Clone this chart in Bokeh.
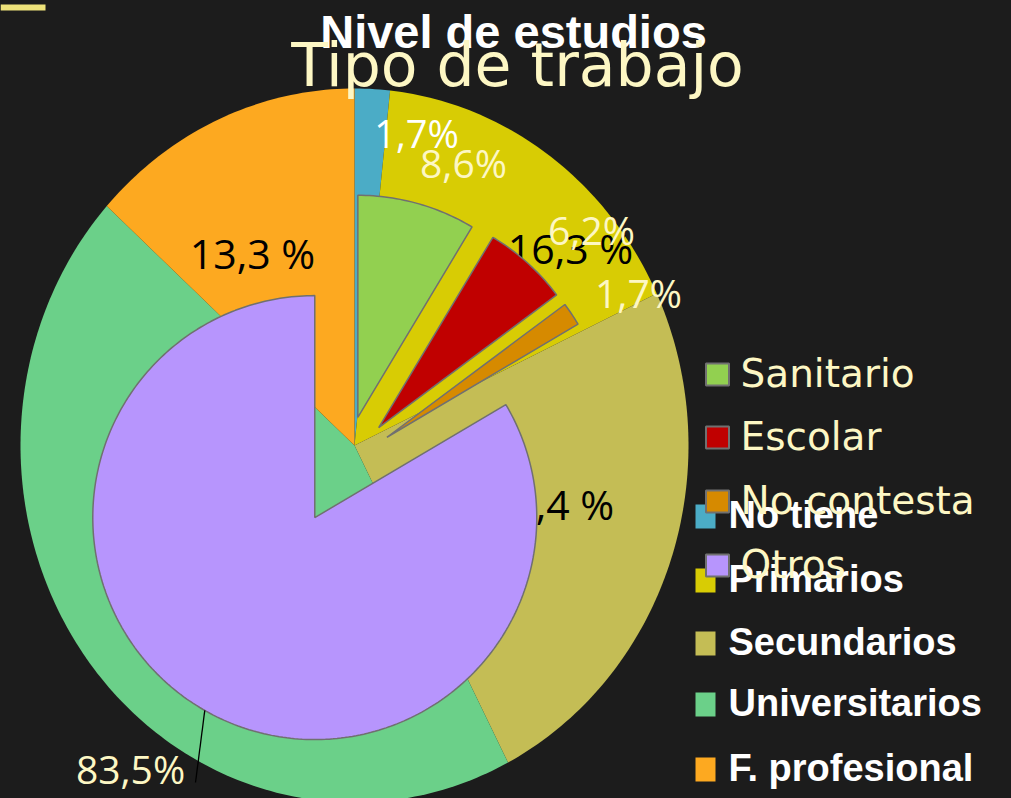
import numpy as np
from bokeh.plotting import figure
from bokeh.models import Range1d, ColumnDataSource
from bokeh.embed import file_html
from bokeh.resources import INLINE
from bokeh.core.properties import value

# ---------------- data ----------------
nivel_title = "Nivel de estudios"
nivel_cats = ["No tiene", "Primarios", "Secundarios", "Universitarios", "F. profesional"]
nivel_vals = [1.7, 16.3, 24.4, 44.3, 13.3]
nivel_labels = ["1,7%", "16,3 %", "24,4 %", "44,3 %", "13,3 %"]

tipo_title = "Tipo de trabajo"
tipo_cats = ["Sanitario", "Escolar", "No contesta", "Otros"]
tipo_vals = [8.6, 6.2, 1.7, 83.5]
tipo_labels = ["8,6%", "6,2%", "1,7%", "83,5%"]

# ---------------- styles / layout ----------------
BG = "#1c1c1c"
CREAM = "#fdf7c4"
nivel_colors = ["#4BACC6", "#D8CC04", "#C4BD55", "#6BD089", "#FDA920"]
tipo_colors = ["#92D050", "#C00000", "#D68A00", "#B795FD"]

big_center = (354, 445)
big_rx, big_ry = 334, 357
small_center = (344, 465)
small_r = 222
small_explode = [50, 51, 51, 60]

# baselines as seen in the picture
nivel_label_pos = [(416, 147), (570, 263), (551, 519), (200, 580), (252, 268)]
nivel_label_col = ["#ffffff", "#000000", "#000000", "#000000", "#000000"]
tipo_label_pos = [(463, 176), (591, 243), (638, 306), (130, 782)]
SHIFT = 0.37  # baseline correction, fraction of font size


def by_(y, size):
    return y - SHIFT * size


W, H = 1011, 798
p = figure(width=W, height=H, output_backend="svg", toolbar_location=None,
           x_range=Range1d(0, W), y_range=Range1d(H, 0),
           min_border=0, outline_line_color=None,
           background_fill_color=BG, border_fill_color=BG)
p.xaxis.visible = False
p.yaxis.visible = False
p.xgrid.visible = False
p.ygrid.visible = False


def wedge_shapes(vals, cx, cy, rx, ry, explode=None):
    total = float(sum(vals))
    ends = np.cumsum(vals) / total * 2 * np.pi
    starts = np.concatenate([[0.0], ends[:-1]])
    xs, ys, mids = [], [], []
    for i, (a0, a1) in enumerate(zip(starts, ends)):
        mid = (a0 + a1) / 2
        mids.append(mid)
        d = explode[i] if explode else 0.0
        ox = cx + d * np.sin(mid)
        oy = cy - d * np.cos(mid)
        n = max(4, int(360 * (a1 - a0) / (2 * np.pi)) + 2)
        t = np.linspace(a0, a1, n)
        xs.append([ox] + list(ox + rx * np.sin(t)))
        ys.append([oy] + list(oy - ry * np.cos(t)))
    return xs, ys, mids


# decorative bar at top-left corner
p.quad(left=[0], right=[45], top=[4], bottom=[10], fill_color="#ede27a", line_color=None)

# ---------- Nivel de estudios (back chart) ----------
bx, by, _ = wedge_shapes(nivel_vals, big_center[0], big_center[1], big_rx, big_ry)
p.patches(xs="xs", ys="ys", fill_color="color", line_color=None,
          source=ColumnDataSource(dict(xs=bx, ys=by, color=nivel_colors)))

nsz = [38, 41, 41, 41, 41]
p.text(x=[q[0] for q in nivel_label_pos],
       y=[by_(q[1], s) for q, s in zip(nivel_label_pos, nsz)],
       text=nivel_labels, text_color=nivel_label_col, text_font=value("Open Sans"),
       text_font_size=["%dpx" % s for s in nsz], text_align="center",
       text_baseline="alphabetic")

p.text(x=[513], y=[by_(48, 47)], text=[nivel_title], text_color="#ffffff",
       text_font=value("Liberation Sans"), text_font_style="bold", text_font_size="47px",
       text_align="center", text_baseline="alphabetic")

leg2_y = [516, 580, 643, 704, 769]
p.rect(x=[705] * len(nivel_cats), y=leg2_y, width=20, height=24,
       fill_color=nivel_colors, line_color=None)
p.text(x=[728] * len(nivel_cats), y=[by_(v + 13, 38) for v in leg2_y], text=nivel_cats,
       text_color="#ffffff", text_font=value("Liberation Sans"), text_font_style="bold",
       text_font_size="38px", text_align="left", text_baseline="alphabetic")

# ---------- Tipo de trabajo (front chart) ----------
sx, sy, smid = wedge_shapes(tipo_vals, small_center[0], small_center[1], small_r, small_r,
                            explode=small_explode)
p.patches(xs="xs", ys="ys", fill_color="color", line_color="#707070", line_width=1.5,
          source=ColumnDataSource(dict(xs=sx, ys=sy, color=tipo_colors)))

# leader line for the "Otros" label
om = smid[3]
ocx = small_center[0] + small_explode[3] * np.sin(om)
ocy = small_center[1] - small_explode[3] * np.cos(om)
p.line(x=[ocx + small_r * np.sin(om), tipo_label_pos[3][0] + 65],
       y=[ocy - small_r * np.cos(om), tipo_label_pos[3][1]],
       line_color="#000000", line_width=1.3)

p.text(x=[q[0] for q in tipo_label_pos], y=[by_(q[1], 39) for q in tipo_label_pos],
       text=tipo_labels, text_color=CREAM, text_font=value("Open Sans"),
       text_font_size="39px", text_align="center", text_baseline="alphabetic")

p.text(x=[517], y=[by_(87, 60)], text=[tipo_title], text_color=CREAM,
       text_font=value("DejaVu Sans"), text_font_size="60px",
       text_align="center", text_baseline="alphabetic")

leg1_y = [374, 437, 501, 565]
p.rect(x=[717] * len(tipo_cats), y=leg1_y, width=23, height=22,
       fill_color=tipo_colors, line_color="#707070", line_width=2)
p.text(x=[740] * len(tipo_cats), y=[by_(v + 13, 39) for v in leg1_y], text=tipo_cats,
       text_color=CREAM, text_font=value("DejaVu Sans"), text_font_size="39px",
       text_align="left", text_baseline="alphabetic")

html = file_html(p, INLINE)
html = html.replace("<head>", "<head><style>body{background:%s;}</style>" % BG, 1)
open("out.html", "w").write(html)
